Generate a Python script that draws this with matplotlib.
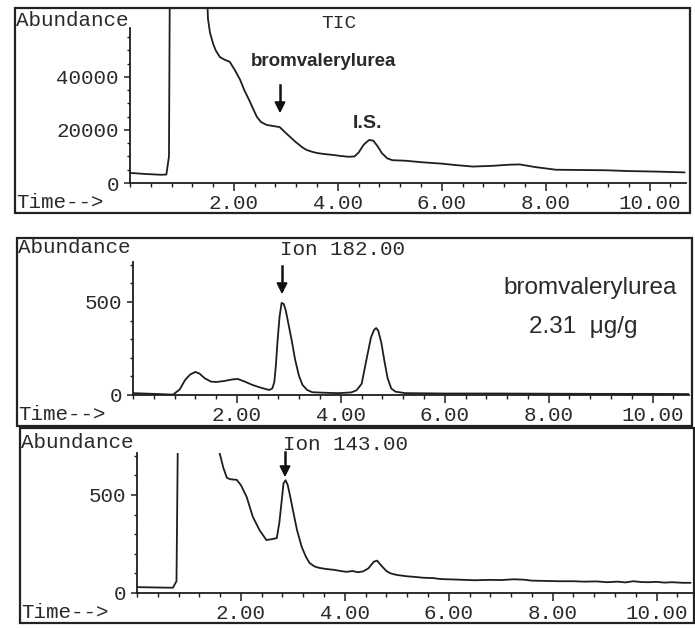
import matplotlib
matplotlib.use("Agg")
import matplotlib.pyplot as plt
from matplotlib.patches import Rectangle
from matplotlib.ticker import MultipleLocator, FixedLocator, FormatStrFormatter

# ---------------- data ----------------
tic_time = [0.0, 0.3, 0.6, 0.7, 0.75, 0.77, 1.45, 1.5, 1.54, 1.6, 1.65, 1.73, 1.82, 1.92,
            2.02, 2.12, 2.2, 2.3, 2.38, 2.44, 2.52, 2.63, 2.75, 2.88, 2.98, 3.08, 3.18,
            3.25, 3.32, 3.4, 3.5, 3.6, 3.75, 3.9, 4.05, 4.2, 4.32, 4.4, 4.5, 4.6, 4.68,
            4.76, 4.85, 4.95, 5.05, 5.3, 5.63, 6.0, 6.3, 6.6, 7.0, 7.3, 7.5, 7.8, 8.2, 8.7,
            9.17, 9.6, 10.13, 10.67]
tic_abund = [3800, 3400, 3100, 3200, 10000, 90000, 90000, 62000, 56600, 52500, 50000, 47500,
             46500, 45700, 42500, 38900, 35000, 31000, 27500, 25000, 23000, 21900, 21500,
             21100, 19200, 17400, 15600, 14500, 13400, 12450, 11800, 11300, 10900, 10600,
             10200, 9900, 10000, 11500, 14500, 16200, 16000, 14000, 11200, 9300, 8600, 8400,
             7800, 7300, 6700, 6200, 6500, 6900, 7000, 6000, 5000, 4900, 4800, 4500, 4300,
             4000]

ion182_time = [0.0, 0.5, 0.77, 0.9, 1.0, 1.1, 1.2, 1.28, 1.38, 1.5, 1.6, 1.75, 1.92, 2.02,
               2.15, 2.3, 2.45, 2.62, 2.68, 2.72, 2.75, 2.78, 2.82, 2.86, 2.9, 2.94, 3.0,
               3.06, 3.12, 3.19, 3.26, 3.35, 3.45, 3.7, 3.96, 4.2, 4.3, 4.4, 4.5, 4.58,
               4.64, 4.68, 4.72, 4.78, 4.84, 4.9, 4.97, 5.05, 5.24, 6.0, 7.0, 8.0, 9.0, 10.0,
               10.7]
ion182_abund = [10, 5, 2, 30, 80, 110, 124, 115, 90, 72, 70, 75, 84, 86, 72, 54, 40, 27, 35,
                70, 160, 285, 420, 495, 490, 455, 370, 285, 190, 107, 55, 27, 15, 12, 10, 14,
                25, 60, 200, 310, 350, 360, 345, 280, 180, 90, 35, 18, 10, 8, 8, 7, 6, 6, 5]

ion143_time = [0.0, 0.4, 0.69, 0.76, 0.79, 1.55, 1.59, 1.66, 1.73, 1.8, 1.92, 2.0, 2.11,
               2.23, 2.36, 2.49, 2.6, 2.69, 2.74, 2.78, 2.82, 2.86, 2.9, 2.95, 3.0, 3.08,
               3.17, 3.25, 3.32, 3.42, 3.51, 3.65, 3.8, 3.92, 4.03, 4.15, 4.25, 4.35, 4.45,
               4.56, 4.62, 4.7, 4.8, 4.88, 5.0, 5.2, 5.35, 5.5, 5.7, 5.85, 6.2, 6.5, 6.8,
               7.0, 7.25, 7.44, 7.6, 7.8, 8.1, 8.4, 8.6, 8.85, 9.05, 9.25, 9.4, 9.55, 9.7,
               9.85, 10.0, 10.15, 10.3, 10.5, 10.65]
ion143_abund = [30, 28, 27, 60, 900, 900, 714, 640, 587, 580, 577, 550, 490, 388, 320, 270,
                275, 280, 360, 459, 560, 575, 551, 490, 423, 320, 235, 185, 153, 135, 128,
                122, 118, 112, 108, 112, 106, 110, 125, 160, 165, 140, 112, 100, 92, 85, 82,
                78, 76, 71, 68, 65, 67, 66, 70, 68, 63, 62, 60, 60, 58, 59, 55, 58, 54, 60,
                56, 55, 57, 53, 55, 52, 52]

x_major = [2, 4, 6, 8, 10]
W, H = 695, 629
LINE = "#1e1e1e"
TXT = "#2a2a2a"
MONO = "Liberation Mono"
SANS = "Liberation Sans"

fig = plt.figure(figsize=(W / 100, H / 100), dpi=100)
fig.patch.set_facecolor("white")


def fpx(x, y):
    return x / W, 1 - y / H


def axes_px(left, top, right, bottom):
    return fig.add_axes([left / W, 1 - bottom / H, (right - left) / W, (bottom - top) / H])


def frame(left, top, right, bottom):
    fig.add_artist(Rectangle((left / W, 1 - bottom / H), (right - left) / W, (bottom - top) / H,
                             transform=fig.transFigure, fill=False, lw=1.6, ec="#222222"))


def style(ax, ylim_top, spine_top, ymajor, yminor):
    ax.set_xlim(0, 10.7)
    ax.set_ylim(0, ylim_top)
    ax.patch.set_alpha(0)
    for s in ("top", "right"):
        ax.spines[s].set_visible(False)
    ax.spines["left"].set_bounds(0, spine_top)
    for s in ("left", "bottom"):
        ax.spines[s].set_linewidth(1.3)
        ax.spines[s].set_color(LINE)
    ax.xaxis.set_major_locator(FixedLocator(x_major))
    ax.xaxis.set_minor_locator(MultipleLocator(0.4))
    ax.xaxis.set_major_formatter(FormatStrFormatter("%.2f"))
    ax.yaxis.set_major_locator(FixedLocator(ymajor))
    ax.yaxis.set_minor_locator(FixedLocator(yminor))
    ax.tick_params(axis="x", which="major", length=5.5, width=1.1, pad=2.5, color=LINE,
                   labelsize=15, labelcolor=TXT)
    ax.tick_params(axis="x", which="minor", length=3, width=1.0, color=LINE)
    ax.tick_params(axis="y", which="major", length=4, width=1.1, pad=4, color=LINE,
                   labelsize=15, labelcolor=TXT)
    ax.tick_params(axis="y", which="minor", length=2.5, width=1.0, color=LINE)
    for lab in ax.get_xticklabels() + ax.get_yticklabels():
        lab.set_family(MONO)


def mtext(x, y, s, ha="left", size=15, family=MONO, weight="normal"):
    fig.text(*fpx(x, y), s, ha=ha, va="center", fontsize=size, family=family,
             weight=weight, color=TXT)


def arrow(x, y0, y1):
    fig.add_artist(plt.Line2D([x / W, x / W], [1 - y0 / H, 1 - (y1 - 8) / H],
                              transform=fig.transFigure, color="#111", lw=1.8))
    ax0 = fig.axes[0]
    ax0.annotate("", xy=(x, H - y1), xycoords="figure pixels",
                 xytext=(x, H - y1 + 12), textcoords="figure pixels",
                 arrowprops=dict(arrowstyle="-|>", color="#111", lw=1.4, mutation_scale=16),
                 annotation_clip=False)


# ---------------- panel 1: TIC ----------------
ax1 = axes_px(130, 8, 686, 183)
ax1.plot(tic_time, tic_abund, color=LINE, lw=1.3)
style(ax1, 66000, 58500, [0, 20000, 40000], list(range(0, 58000, 5000)))
frame(15, 8, 690, 213)
mtext(16, 20, "Abundance")
mtext(16, 203, "Time-->")
mtext(339, 23, "TIC", ha="center", size=14)
mtext(324, 62, "bromvalerylurea", ha="center", size=13.5, family=SANS, weight="bold")
mtext(368, 124, "I.S.", ha="center", size=14, family=SANS, weight="bold")

# ---------------- panel 2: Ion 182 ----------------
ax2 = axes_px(133, 262, 689, 395)
ax2.plot(ion182_time, ion182_abund, color=LINE, lw=1.3)
style(ax2, 715, 715, [0, 500], list(range(0, 701, 100)))
frame(17, 238, 692, 426)
mtext(18, 248, "Abundance")
mtext(18, 415, "Time-->")
mtext(280, 250, "Ion 182.00")
mtext(590, 288, "bromvalerylurea", ha="center", size=17.5, family=SANS)
mtext(583, 327, "2.31  \u03bcg/g", ha="center", size=17.5, family=SANS)

# ---------------- panel 3: Ion 143 ----------------
ax3 = axes_px(137, 453, 693, 593)
ax3.plot(ion143_time, ion143_abund, color=LINE, lw=1.3)
style(ax3, 714, 714, [0, 500], list(range(0, 701, 100)))
frame(20, 428, 694, 623)
mtext(21, 442, "Abundance")
mtext(21, 612, "Time-->")
mtext(283, 444, "Ion 143.00")

# arrows
arrow(280, 85, 116)
arrow(282, 266, 297)
arrow(285, 452, 480)

fig.savefig("out.png", dpi=100, facecolor="white")
